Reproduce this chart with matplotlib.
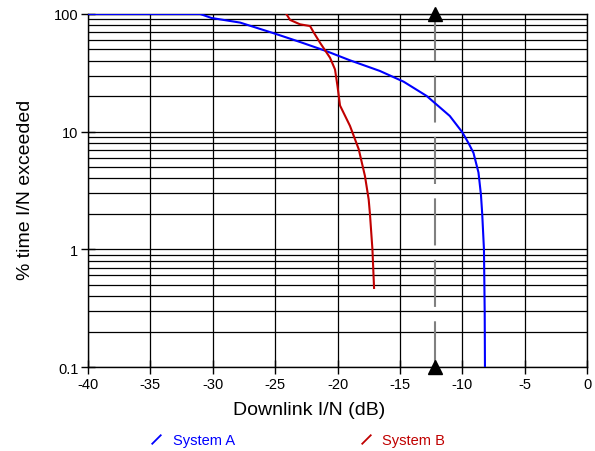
import matplotlib
matplotlib.use("Agg")
import matplotlib.pyplot as plt
from matplotlib.lines import Line2D
from matplotlib.ticker import FixedLocator, NullFormatter

# data
sys_a_x = [-40, -31.0, -30.1, -27.8, -25.0, -23.0, -20.9, -19.0, -16.6, -14.7,
           -12.85, -11.0, -10.0, -9.5, -9.1, -8.7, -8.5, -8.4, -8.26, -8.2, -8.18]
sys_a_y = [100, 100, 92.5, 84.5, 68, 57.8, 48.4, 40.4, 32.8, 26.6,
           20.1, 13.6, 9.9, 8.0, 6.6, 4.5, 2.9, 2.0, 1.0, 0.29, 0.1]

sys_b_x = [-24.1, -23.8, -23.0, -22.2, -21.9, -21.4, -20.6, -20.2, -20.0,
           -19.8, -19.0, -18.3, -17.8, -17.5, -17.4, -17.2, -17.07]
sys_b_y = [100, 89, 81.7, 79, 69.5, 57, 42.5, 33.8, 24.4,
           16.7, 11.2, 7.1, 4.2, 2.65, 2.0, 1.0, 0.47]

threshold_x = -12.2
y_limits = [0.1, 100]
x_ticks = [-40, -35, -30, -25, -20, -15, -10, -5, 0]
y_ticks = [0.1, 1, 10, 100]
y_tick_labels = ['0.1', '1', '10', '100']

blue = '#0000ff'
red = '#c00000'

plt.rcParams['font.family'] = ['Liberation Sans', 'DejaVu Sans']

def main():
    fig = plt.figure(figsize=(5.95, 4.52), dpi=100)
    ax = fig.add_axes([88 / 595, 1 - 368 / 452, 499 / 595, 353 / 452])

    ax.set_yscale('log')
    ax.set_xlim(-40, 0)
    ax.set_ylim(*y_limits)

    ax.xaxis.set_major_locator(FixedLocator(x_ticks))
    ax.set_xticklabels([str(t) for t in x_ticks])
    ax.yaxis.set_major_locator(FixedLocator(y_ticks))
    ax.set_yticklabels(y_tick_labels)
    minors = [m * 10.0 ** e for e in (-1, 0, 1) for m in range(2, 10)]
    ax.yaxis.set_minor_locator(FixedLocator(minors))
    ax.yaxis.set_minor_formatter(NullFormatter())

    ax.grid(True, which='major', axis='x', color='black', lw=0.9)
    ax.grid(True, which='both', axis='y', color='black', lw=0.9)
    ax.tick_params(which='major', direction='inout', length=10, width=1,
                   labelsize=10.5, pad=2)
    ax.tick_params(which='minor', length=0)
    for s in ax.spines.values():
        s.set_linewidth(1)

    ax.plot(sys_a_x, sys_a_y, color=blue, lw=1.5, zorder=4)
    ax.plot(sys_b_x, sys_b_y, color=red, lw=1.5, zorder=4)

    # dashed threshold line, drawn top to bottom so the dash starts at 100
    ax.plot([threshold_x, threshold_x], y_limits[::-1], color='#808080', lw=1.5,
            dashes=(22.6, 6.9), zorder=3)
    ax.plot([threshold_x, threshold_x], y_limits, ls='none', marker='^',
            color='black', markersize=10, clip_on=False, zorder=5)

    fig.text(309 / 595, 1 - 411 / 452, 'Downlink I/N (dB)', ha='center',
             va='center', fontsize=14)
    fig.text(25 / 595, 1 - 190 / 452, '% time I/N exceeded', ha='center',
             va='center', rotation=90, fontsize=14)

    slash = [(-1, -1), (1, 1)]
    handles = [Line2D([], [], ls='none', marker=slash, markersize=7, mew=1.3,
                      color=blue, label='System A'),
               Line2D([], [], ls='none', marker=slash, markersize=7, mew=1.3,
                      color=red, label='System B')]
    leg = fig.legend(handles=handles, loc='center', ncol=2,
                     bbox_to_anchor=(297 / 595, 1 - 441 / 452), frameon=False,
                     fontsize=10.5, handlelength=1.0, handletextpad=0.6,
                     columnspacing=8.5)
    for txt, c in zip(leg.get_texts(), [blue, red]):
        txt.set_color(c)

    fig.savefig('out.png', dpi=100)


if __name__ == "__main__":
    main()
